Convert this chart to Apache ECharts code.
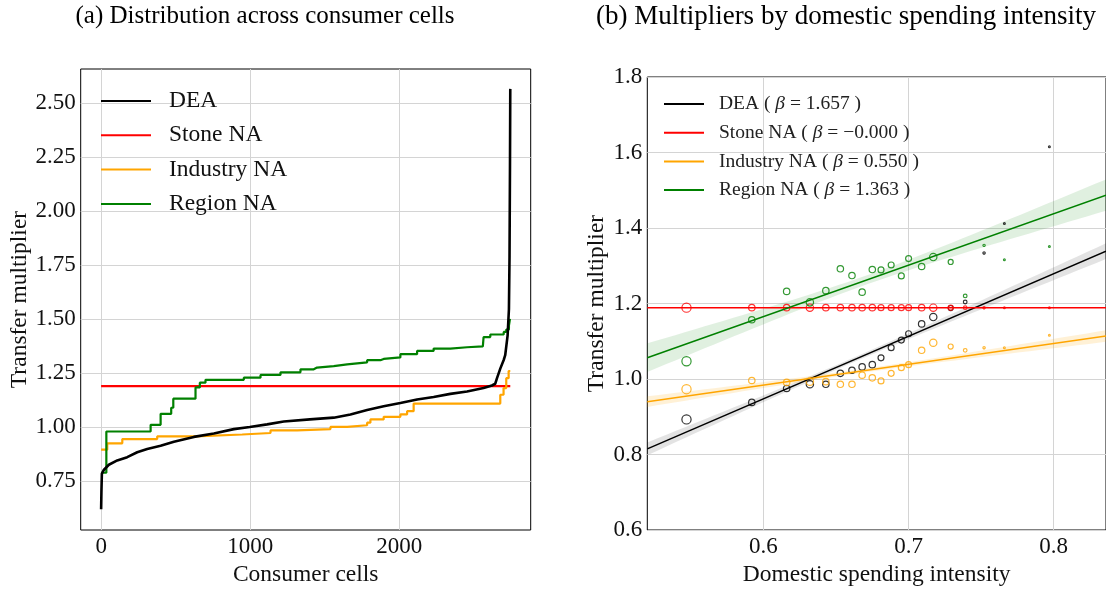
<!DOCTYPE html>
<html>
<head>
<meta charset="utf-8">
<script src="https://cdn.jsdelivr.net/npm/echarts@6/dist/echarts.min.js"></script>
<style>
  html, body { margin: 0; padding: 0; background: #ffffff; }
  #chart { width: 1106px; height: 592px; }
</style>
</head>
<body>
<div id="chart"></div>
<script>
// ---------- Panel (a): sorted transfer multipliers per consumer cell ----------
const cellTicks = [0, 1000, 2000];
const multiplierTicksA = [0.75, 1.00, 1.25, 1.50, 1.75, 2.00, 2.25, 2.50];

// [cell rank, multiplier] along the sorted DEA curve
const deaSorted = [
  [0, 0.619], [2, 0.700], [5, 0.784], [19, 0.802], [52, 0.825], [108, 0.845],
  [175, 0.860], [242, 0.883], [309, 0.898], [399, 0.913], [488, 0.932],
  [622, 0.954], [756, 0.970], [890, 0.990], [997, 1.000], [1113, 1.012],
  [1225, 1.025], [1400, 1.035], [1560, 1.043], [1672, 1.058], [1784, 1.078],
  [1895, 1.096], [2007, 1.111], [2119, 1.127], [2230, 1.139], [2342, 1.153],
  [2454, 1.164], [2565, 1.180], [2621, 1.192], [2643, 1.200], [2655, 1.226],
  [2677, 1.270], [2700, 1.310], [2710, 1.332], [2726, 1.423], [2735, 1.545],
  [2739, 1.789], [2742, 2.200], [2744, 2.565]
];
const stoneSorted = [[0, 1.189], [2744, 1.189]];
// [first cell rank of level, level] for the stepwise curves
const industrySteps = [
  [0, 0.895], [41, 0.924], [142, 0.944], [376, 0.956], [633, 0.965],
  [946, 0.972], [1136, 0.984], [1314, 0.990], [1538, 1.000], [1650, 1.008],
  [1784, 1.020], [1806, 1.035], [1895, 1.047], [2007, 1.058], [2052, 1.073],
  [2096, 1.108], [2677, 1.149], [2699, 1.180], [2717, 1.226], [2733, 1.259],
  [2744, 1.259]
];
const regionSteps = [
  [0, 0.788], [35, 0.979], [332, 1.010], [399, 1.061], [470, 1.089],
  [484, 1.131], [633, 1.183], [662, 1.205], [700, 1.218], [957, 1.228],
  [1069, 1.241], [1203, 1.253], [1337, 1.267], [1426, 1.275], [1448, 1.282],
  [1560, 1.290], [1650, 1.299], [1784, 1.309], [1873, 1.315], [1895, 1.322],
  [2007, 1.337], [2119, 1.352], [2230, 1.363], [2342, 1.369], [2454, 1.373],
  [2560, 1.378], [2565, 1.416], [2610, 1.428], [2700, 1.440], [2717, 1.451],
  [2735, 1.469], [2742, 1.500], [2744, 1.500]
];

// ---------- Panel (b): binned multipliers vs domestic spending intensity ----------
const intensityTicks = [0.6, 0.7, 0.8];
const binIntensity = [
  0.547, 0.592, 0.616, 0.632, 0.643, 0.653, 0.661, 0.668, 0.675, 0.681,
  0.688, 0.695, 0.700, 0.709, 0.717, 0.729, 0.739, 0.752, 0.766, 0.797
];
const binCellCount = [
  280, 136, 136, 178, 136, 136, 136, 136, 136, 117,
  117, 117, 117, 136, 178, 84, 44, 17, 11, 11
];
const binDEA = [
  0.893, 0.938, 0.975, 0.986, 0.986, 1.015, 1.023, 1.032, 1.038, 1.056,
  1.083, 1.103, 1.120, 1.146, 1.164, 1.188, 1.204, 1.334, 1.412, 1.615
];
const binStone = [
  1.189, 1.189, 1.189, 1.189, 1.189, 1.189, 1.189, 1.189, 1.189, 1.189,
  1.189, 1.189, 1.189, 1.189, 1.189, 1.189, 1.189, 1.189, 1.189, 1.189
];
const binIndustry = [
  0.973, 0.996, 0.991, 0.993, 0.993, 0.986, 0.986, 1.010, 1.003, 0.995,
  1.015, 1.030, 1.038, 1.076, 1.096, 1.086, 1.076, 1.083, 1.083, 1.116
];
const binRegion = [
  1.047, 1.157, 1.232, 1.203, 1.234, 1.292, 1.274, 1.230, 1.290, 1.289,
  1.302, 1.273, 1.319, 1.298, 1.323, 1.310, 1.220, 1.354, 1.316, 1.351
];

const methods = ['DEA', 'Stone NA', 'Industry NA', 'Region NA'];
const slopes = [1.657, -0.0001, 0.550, 1.363];
const intercepts = [-0.0466, 1.1891, 0.654, 0.3477];
// confidence band of each fit: centre, narrowest half-width, widening rate
const bandCentre = [0.660, 0.670, 0.670, 0.670];
const bandHalfMin = [0.006, 0.0, 0.005, 0.012];
const bandWidening = [0.114, 0.0, 0.087, 0.240];

// ---------- styling ----------
const colors = ['#000000', '#ff0000', '#ffa500', '#008000'];
const bandFills = ['rgba(0,0,0,0.11)', 'rgba(255,0,0,0.1)', 'rgba(255,165,0,0.16)', 'rgba(0,128,0,0.12)'];
const serif = '"Liberation Serif", "DejaVu Serif", serif';
const gridLine = { show: true, lineStyle: { color: '#d4d4d4', width: 1 } };
const tickText = { fontFamily: serif, fontSize: 23, color: '#111' };
const nameText = { fontFamily: serif, fontSize: 23.5, color: '#111' };

const xRangeB = [0.52, 0.836];

const binSeries = [binDEA, binStone, binIndustry, binRegion];
const stepSeries = [deaSorted, stoneSorted, industrySteps, regionSteps];

function betaLabel(i) {
  const s = slopes[i].toFixed(3).replace('-', '\u2212');
  return methods[i] + ' ( \u03b2 = ' + s + ' )';
}

const series = [];

// panel (a) curves
methods.forEach((m, i) => {
  series.push({
    name: m,
    type: 'line',
    xAxisIndex: 0, yAxisIndex: 0,
    data: stepSeries[i],
    step: (i === 2 || i === 3) ? 'end' : false,
    showSymbol: false, symbol: 'none',
    lineStyle: { color: colors[i], width: i === 0 ? 2.6 : 2.2 },
    itemStyle: { color: colors[i] },
    z: i === 0 ? 5 : 4,
    silent: true, animation: false
  });
});

// panel (b) confidence bands
methods.forEach((m, i) => {
  if (bandHalfMin[i] === 0 && bandWidening[i] === 0) return;
  const pts = [];
  const n = 48;
  for (let k = 0; k <= n; k++) {
    const x = xRangeB[0] + (xRangeB[1] - xRangeB[0]) * k / n;
    const y = intercepts[i] + slopes[i] * x;
    const d = x - bandCentre[i];
    const h = Math.sqrt(bandHalfMin[i] * bandHalfMin[i] + bandWidening[i] * bandWidening[i] * d * d);
    pts.push([x, y - h, y + h]);
  }
  series.push({
    type: 'custom',
    xAxisIndex: 1, yAxisIndex: 1,
    data: pts,
    encode: { x: 0, y: [1, 2] },
    silent: true, animation: false, z: 1,
    renderItem(params, api) {
      if (params.dataIndex !== 0) return null;
      const upper = pts.map(p => api.coord([p[0], p[2]]));
      const lower = pts.map(p => api.coord([p[0], p[1]])).reverse();
      return {
        type: 'polygon',
        shape: { points: upper.concat(lower) },
        style: { fill: bandFills[i] }
      };
    }
  });
});

// panel (b) binned points
methods.forEach((m, i) => {
  series.push({
    type: 'scatter',
    xAxisIndex: 1, yAxisIndex: 1,
    data: binIntensity.map((x, k) => [x, binSeries[i][k]]),
    symbol: 'circle',
    symbolSize: (v, p) => Math.sqrt(binCellCount[p.dataIndex]) * 0.55,
    itemStyle: { color: 'rgba(0,0,0,0)', borderColor: colors[i], borderWidth: 1.2 },
    silent: true, animation: false, z: 3
  });
});

// panel (b) fitted lines
methods.forEach((m, i) => {
  series.push({
    name: betaLabel(i),
    type: 'line',
    xAxisIndex: 1, yAxisIndex: 1,
    data: xRangeB.map(x => [x, intercepts[i] + slopes[i] * x]),
    showSymbol: false, symbol: 'none',
    lineStyle: { color: colors[i], width: 1.5 },
    itemStyle: { color: colors[i] },
    silent: true, animation: false, z: 4
  });
});

const chart = echarts.init(document.getElementById('chart'), null, { renderer: 'canvas' });
chart.setOption({
  backgroundColor: '#ffffff',
  animation: false,
  title: [
    { text: '(a) Distribution across consumer cells', left: 265, textAlign: 'center', top: 4, padding: 0,
      textStyle: { fontFamily: serif, fontSize: 25, fontWeight: 'normal', color: '#000' } },
    { text: '(b) Multipliers by domestic spending intensity', left: 846, textAlign: 'center', top: 3, padding: 0,
      textStyle: { fontFamily: serif, fontSize: 27, fontWeight: 'normal', color: '#000' } }
  ],
  legend: [
    {
      data: methods,
      orient: 'vertical',
      left: 100, top: 89, padding: 0,
      itemWidth: 50, itemHeight: 14, itemGap: 10.3,
      selectedMode: false,
      itemStyle: { opacity: 0 },
      textStyle: { fontFamily: serif, fontSize: 23.5, color: '#111', padding: [0, 0, 0, 13] }
    },
    {
      data: methods.map((m, i) => betaLabel(i)),
      orient: 'vertical',
      left: 663, top: 94, padding: 0,
      itemWidth: 40, itemHeight: 12, itemGap: 8.7,
      selectedMode: false,
      itemStyle: { opacity: 0 },
      formatter: name => name.replace('\u03b2', '{b|\u03b2}'),
      textStyle: {
        fontFamily: serif, fontSize: 19.5, color: '#222', padding: [0, 0, 0, 10],
        rich: { b: { fontFamily: serif, fontSize: 19.5, fontStyle: 'italic', color: '#222' } }
      }
    }
  ],
  grid: [
    { left: 80.7, right: 575.3, top: 69, bottom: 55.3, show: true,
      borderColor: '#000', borderWidth: 1, backgroundColor: 'transparent' },
    { left: 647.3, right: -2, top: 77, bottom: 54.6, show: true,
      borderColor: '#000', borderWidth: 1, backgroundColor: 'transparent' }
  ],
  xAxis: [
    {
      gridIndex: 0, type: 'value', min: -137, max: 2881,
      name: 'Consumer cells', nameLocation: 'middle', nameGap: 33, nameTextStyle: nameText,
      axisLine: { show: false },
      axisTick: { show: false, customValues: cellTicks },
      axisLabel: { customValues: cellTicks, margin: 5, ...tickText, formatter: v => String(v) },
      splitLine: gridLine
    },
    {
      gridIndex: 1, type: 'value', min: xRangeB[0], max: xRangeB[1],
      name: 'Domestic spending intensity', nameLocation: 'middle', nameGap: 33, nameTextStyle: nameText,
      axisLine: { show: false },
      axisTick: { show: false, customValues: intensityTicks },
      axisLabel: { customValues: intensityTicks, margin: 5, ...tickText, formatter: v => v.toFixed(1) },
      splitLine: gridLine
    }
  ],
  yAxis: [
    {
      gridIndex: 0, type: 'value', min: 0.523, max: 2.657,
      name: 'Transfer multiplier', nameLocation: 'middle', nameGap: 45, nameTextStyle: nameText,
      axisLine: { show: false },
      axisTick: { show: false, customValues: multiplierTicksA },
      axisLabel: { customValues: multiplierTicksA, margin: 5, ...tickText, formatter: v => v.toFixed(2) },
      splitLine: gridLine
    },
    {
      gridIndex: 1, type: 'value', min: 0.6, max: 1.8, interval: 0.2,
      name: 'Transfer multiplier', nameLocation: 'middle', nameGap: 38, nameTextStyle: nameText,
      axisLine: { show: false },
      axisTick: { show: false },
      axisLabel: { margin: 5, ...tickText, formatter: v => v.toFixed(1) },
      splitLine: gridLine
    }
  ],
  series: series
});
</script>
</body>
</html>
